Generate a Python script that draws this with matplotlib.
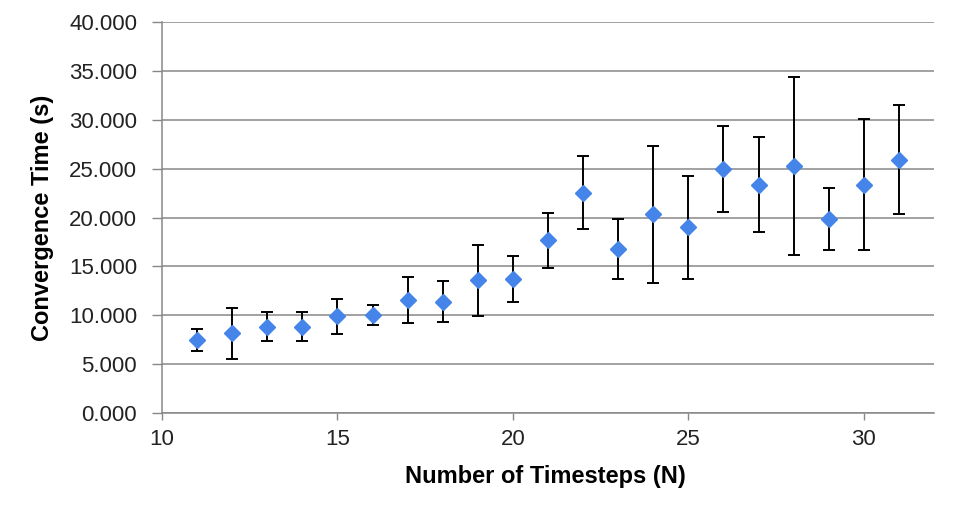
import numpy as np
import matplotlib
matplotlib.use('Agg')
import matplotlib.pyplot as plt
from matplotlib.ticker import FormatStrFormatter

# timesteps N and measured convergence time (mean, std)
timesteps = [11, 12, 13, 14, 15, 16, 17, 18, 19, 20, 21,
             22, 23, 24, 25, 26, 27, 28, 29, 30, 31]
conv_time = [7.45, 8.13, 8.81, 8.81, 9.87, 10.04, 11.54, 11.37, 13.56, 13.73, 17.66,
             22.54, 16.80, 20.32, 18.99, 24.97, 23.39, 25.27, 19.88, 23.39, 25.92]
conv_std = [1.10, 2.63, 1.50, 1.50, 1.76, 1.03, 2.36, 2.10, 3.64, 2.36, 2.81,
            3.74, 3.06, 7.04, 5.26, 4.39, 4.92, 9.15, 3.20, 6.70, 5.58]

x_ticks = [10, 15, 20, 25, 30]
y_ticks = [0, 5, 10, 15, 20, 25, 30, 35, 40]

plt.rcParams['font.family'] = ['Liberation Sans', 'DejaVu Sans']

fig = plt.figure(figsize=(9.57, 5.23), dpi=100)
ax = fig.add_axes([0.1693, 0.211, 0.8067, 0.746])

grid_col = '#878787'
ax.errorbar(timesteps, conv_time, yerr=conv_std, fmt='D', color='#4584e8',
            markersize=8, ecolor='black', elinewidth=1.4, capsize=4,
            capthick=1.4, zorder=3)

ax.set_xlim(10, 32)
ax.set_ylim(0, 40)
ax.set_xticks(x_ticks)
ax.set_yticks(y_ticks)
ax.yaxis.set_major_formatter(FormatStrFormatter('%.3f'))
ax.grid(axis='y', color=grid_col, linewidth=1.1)
ax.set_axisbelow(True)

for s in ['top', 'right']:
    ax.spines[s].set_visible(False)
for s in ['left', 'bottom']:
    ax.spines[s].set_color(grid_col)
    ax.spines[s].set_linewidth(1.1)

ax.tick_params(axis='y', length=7, width=1, color=grid_col, pad=11,
               labelsize=16, labelcolor='#222222')
ax.tick_params(axis='x', length=5, width=1, color=grid_col, pad=7,
               labelsize=16, labelcolor='#222222')

ax.set_xlabel('Number of Timesteps (N)', fontsize=17, fontweight='bold')
ax.set_ylabel('Convergence Time (s)', fontsize=17, fontweight='bold')
ax.xaxis.set_label_coords(0.497, -0.134)
ax.yaxis.set_label_coords(-0.140, 0.5)

fig.savefig('out.png', dpi=100)
